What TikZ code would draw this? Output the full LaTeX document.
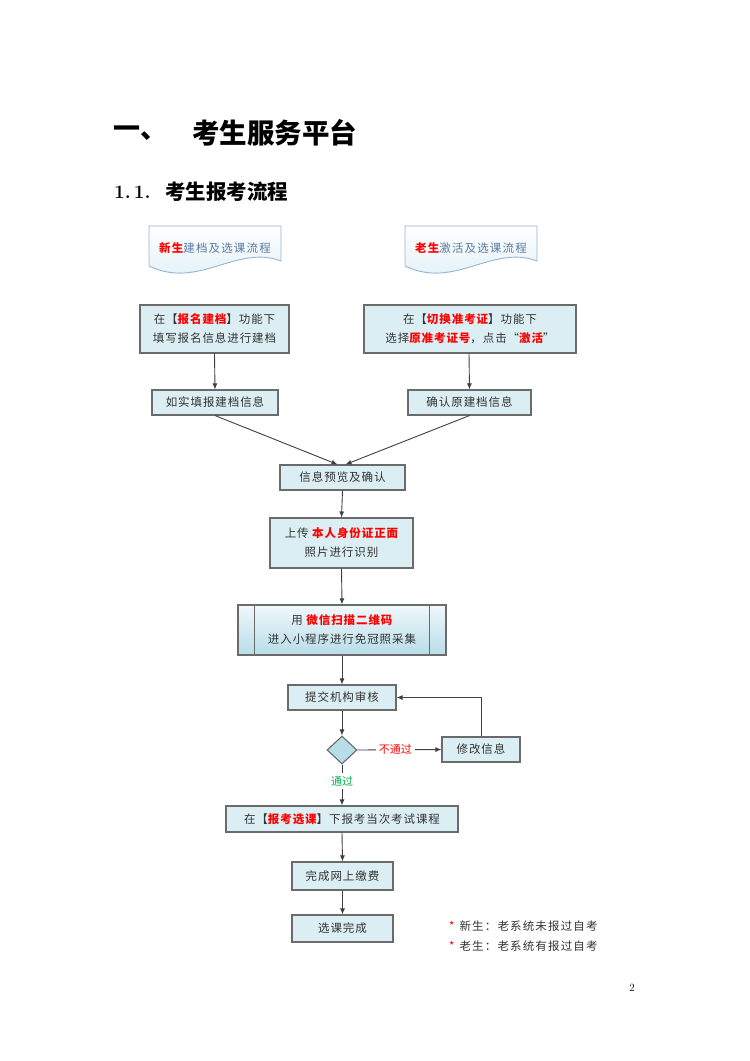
\documentclass[tikz,border=0pt]{standalone}
\usepackage{fontspec}
\newfontfamily\cjk{Noto Sans CJK SC}
\newfontfamily\cjks{Noto Sans CJK SC}[LetterSpace=8]
\newfontfamily\cjkw{Noto Sans CJK SC}[LetterSpace=10]
\usetikzlibrary{arrows.meta,shapes.geometric,calc}
\definecolor{boxfill}{HTML}{DBEEF4}
\definecolor{boxline}{HTML}{6B6B6B}
\definecolor{txt}{HTML}{333333}
\definecolor{docline}{HTML}{95B3D7}
\definecolor{doctxt}{HTML}{5A7AA5}
\definecolor{dia}{HTML}{B7DDE8}
\definecolor{okgreen}{HTML}{00B050}
\newcommand{\hl}[1]{\textcolor{red}{\bfseries #1}}
\tikzset{
  pbox/.style={draw=boxline, line width=1.1pt, fill=boxfill, text=txt, align=center,
    inner sep=0pt, font=\cjks\fontsize{11.5}{19}\selectfont},
  arr/.style={draw=black!75, line width=0.9pt, -{Latex[length=6pt,width=5pt]}},
  lbl/.style={fill=white, inner sep=3pt, font=\cjk\fontsize{11}{13}\selectfont},
}
\begin{document}
\begin{tikzpicture}[x=1pt,y=-1pt]
\useasboundingbox (0,0) rectangle (750,1061);
\fill[white] (0,0) rectangle (750,1061);

% headings
\node[anchor=west, inner sep=0pt, font=\cjk\bfseries\fontsize{27}{30}\selectfont] (h1a) at (113,133) {一、};
\node[anchor=west, inner sep=0pt, font=\cjk\bfseries\fontsize{27.5}{30}\selectfont] (h1b) at (192,133) {考生服务平台};
\node[anchor=west, inner sep=0pt, font=\bfseries\fontsize{19}{22}\selectfont] (h2a) at (114,192) {1.\,1.};
\node[anchor=west, inner sep=0pt, font=\cjk\bfseries\fontsize{20.5}{22}\selectfont] (h2b) at (165,192) {考生报考流程};

% document shapes
\foreach \nm/\xa/\xb in {docL/149/281, docR/405/537}{
  \path[draw=docline, line width=0.9pt, top color=white, bottom color=boxfill]
    (\xa,226) -- (\xb,226) -- (\xb,261)
    .. controls ({\xb-45},244) and ({\xa+50},290) .. (\xa,266) -- cycle;
}
\node[inner sep=0pt, font=\cjkw\fontsize{11.5}{14}\selectfont, text=doctxt] (t1) at (215,248) {\hl{新生}建档及选课流程};
\node[inner sep=0pt, font=\cjkw\fontsize{11.5}{14}\selectfont, text=doctxt] (t2) at (471,248) {\hl{老生}激活及选课流程};

% boxes
\node[pbox, minimum width=149pt, minimum height=48pt] (A) at (214.5,329) {在【\hl{报名建档}】功能下\\填写报名信息进行建档};
\node[pbox, minimum width=212pt, minimum height=48pt] (B) at (470,329) {在【\hl{切换准考证}】功能下\\选择\hl{原准考证号}，点击“\hl{激活}”};
\node[pbox, minimum width=126pt, minimum height=25pt] (C) at (215,402.5) {如实填报建档信息};
\node[pbox, minimum width=123pt, minimum height=25pt] (D) at (469.5,402.5) {确认原建档信息};
\node[pbox, minimum width=125pt, minimum height=25pt] (E) at (342.5,477.5) {信息预览及确认};
\node[pbox, minimum width=143pt, minimum height=50pt] (F) at (341.5,543) {上传 \hl{本人身份证正面}\\照片进行识别};
\node[pbox, minimum width=208pt, minimum height=50pt, top color=white!60!boxfill, bottom color=dia] (G) at (342,630) {用 \hl{微信扫描二维码}\\进入小程序进行免冠照采集};
\draw[boxline, line width=1.1pt] ($(G.north west)+(17,0)$) -- ($(G.south west)+(17,0)$);
\draw[boxline, line width=1.1pt] ($(G.north east)+(-17,0)$) -- ($(G.south east)+(-17,0)$);
\node[pbox, minimum width=108pt, minimum height=25pt] (H) at (342,697.5) {提交机构审核};
\node[draw=boxline, line width=1.1pt, fill=dia, diamond, minimum width=30pt, minimum height=28pt, inner sep=0pt] (K0) at (342,750) {};
\node[pbox, minimum width=78pt, minimum height=25pt] (I) at (481,749.5) {修改信息};
\node[pbox, minimum width=232pt, minimum height=26pt] (J) at (342,819) {在【\hl{报考选课}】下报考当次考试课程};
\node[pbox, minimum width=101pt, minimum height=28pt] (K) at (342.5,876) {完成网上缴费};
\node[pbox, minimum width=101pt, minimum height=27pt] (L) at (342.5,928.5) {选课完成};

% connectors
\draw[arr] (A.south) -- (C.north);
\draw[arr] ([xshift=-1pt]B.south) -- (D.north);
\draw[arr] (C.south) -- ([xshift=-5pt]E.north);
\draw[arr] (D.south) -- ([xshift=3pt]E.north);
\draw[arr] (E.south) -- (F.north);
\draw[arr] (F.south) -- (G.north);
\draw[arr] (G.south) -- (H.north);
\draw[arr] (H.south) -- (K0.north);
\draw[arr] (K0.east) -- node[lbl, text=red, pos=0.45] (nopass) {不通过} (I.west);
\draw[arr] (I.north) |- (H.east);
\draw[arr] (K0.south) -- node[lbl, text=okgreen, pos=0.4] (pass) {通过} (J.north);
\draw[arr] (J.south) -- (K.north);
\draw[arr] (K.south) -- (L.north);

% notes
\node[anchor=west, inner sep=0pt, font=\cjkw\fontsize{11.5}{14}\selectfont, text=txt] (n1) at (449,926) {\textcolor{red}{*}\hspace{5pt}新生：老系统未报过自考};
\node[anchor=west, inner sep=0pt, font=\cjkw\fontsize{11.5}{14}\selectfont, text=txt] (n2) at (449,946) {\textcolor{red}{*}\hspace{5pt}老生：老系统有报过自考};

% page number
\node[inner sep=0pt, font=\fontsize{11}{13}\selectfont] (pg) at (632,988) {2};
\end{tikzpicture}
\end{document}
